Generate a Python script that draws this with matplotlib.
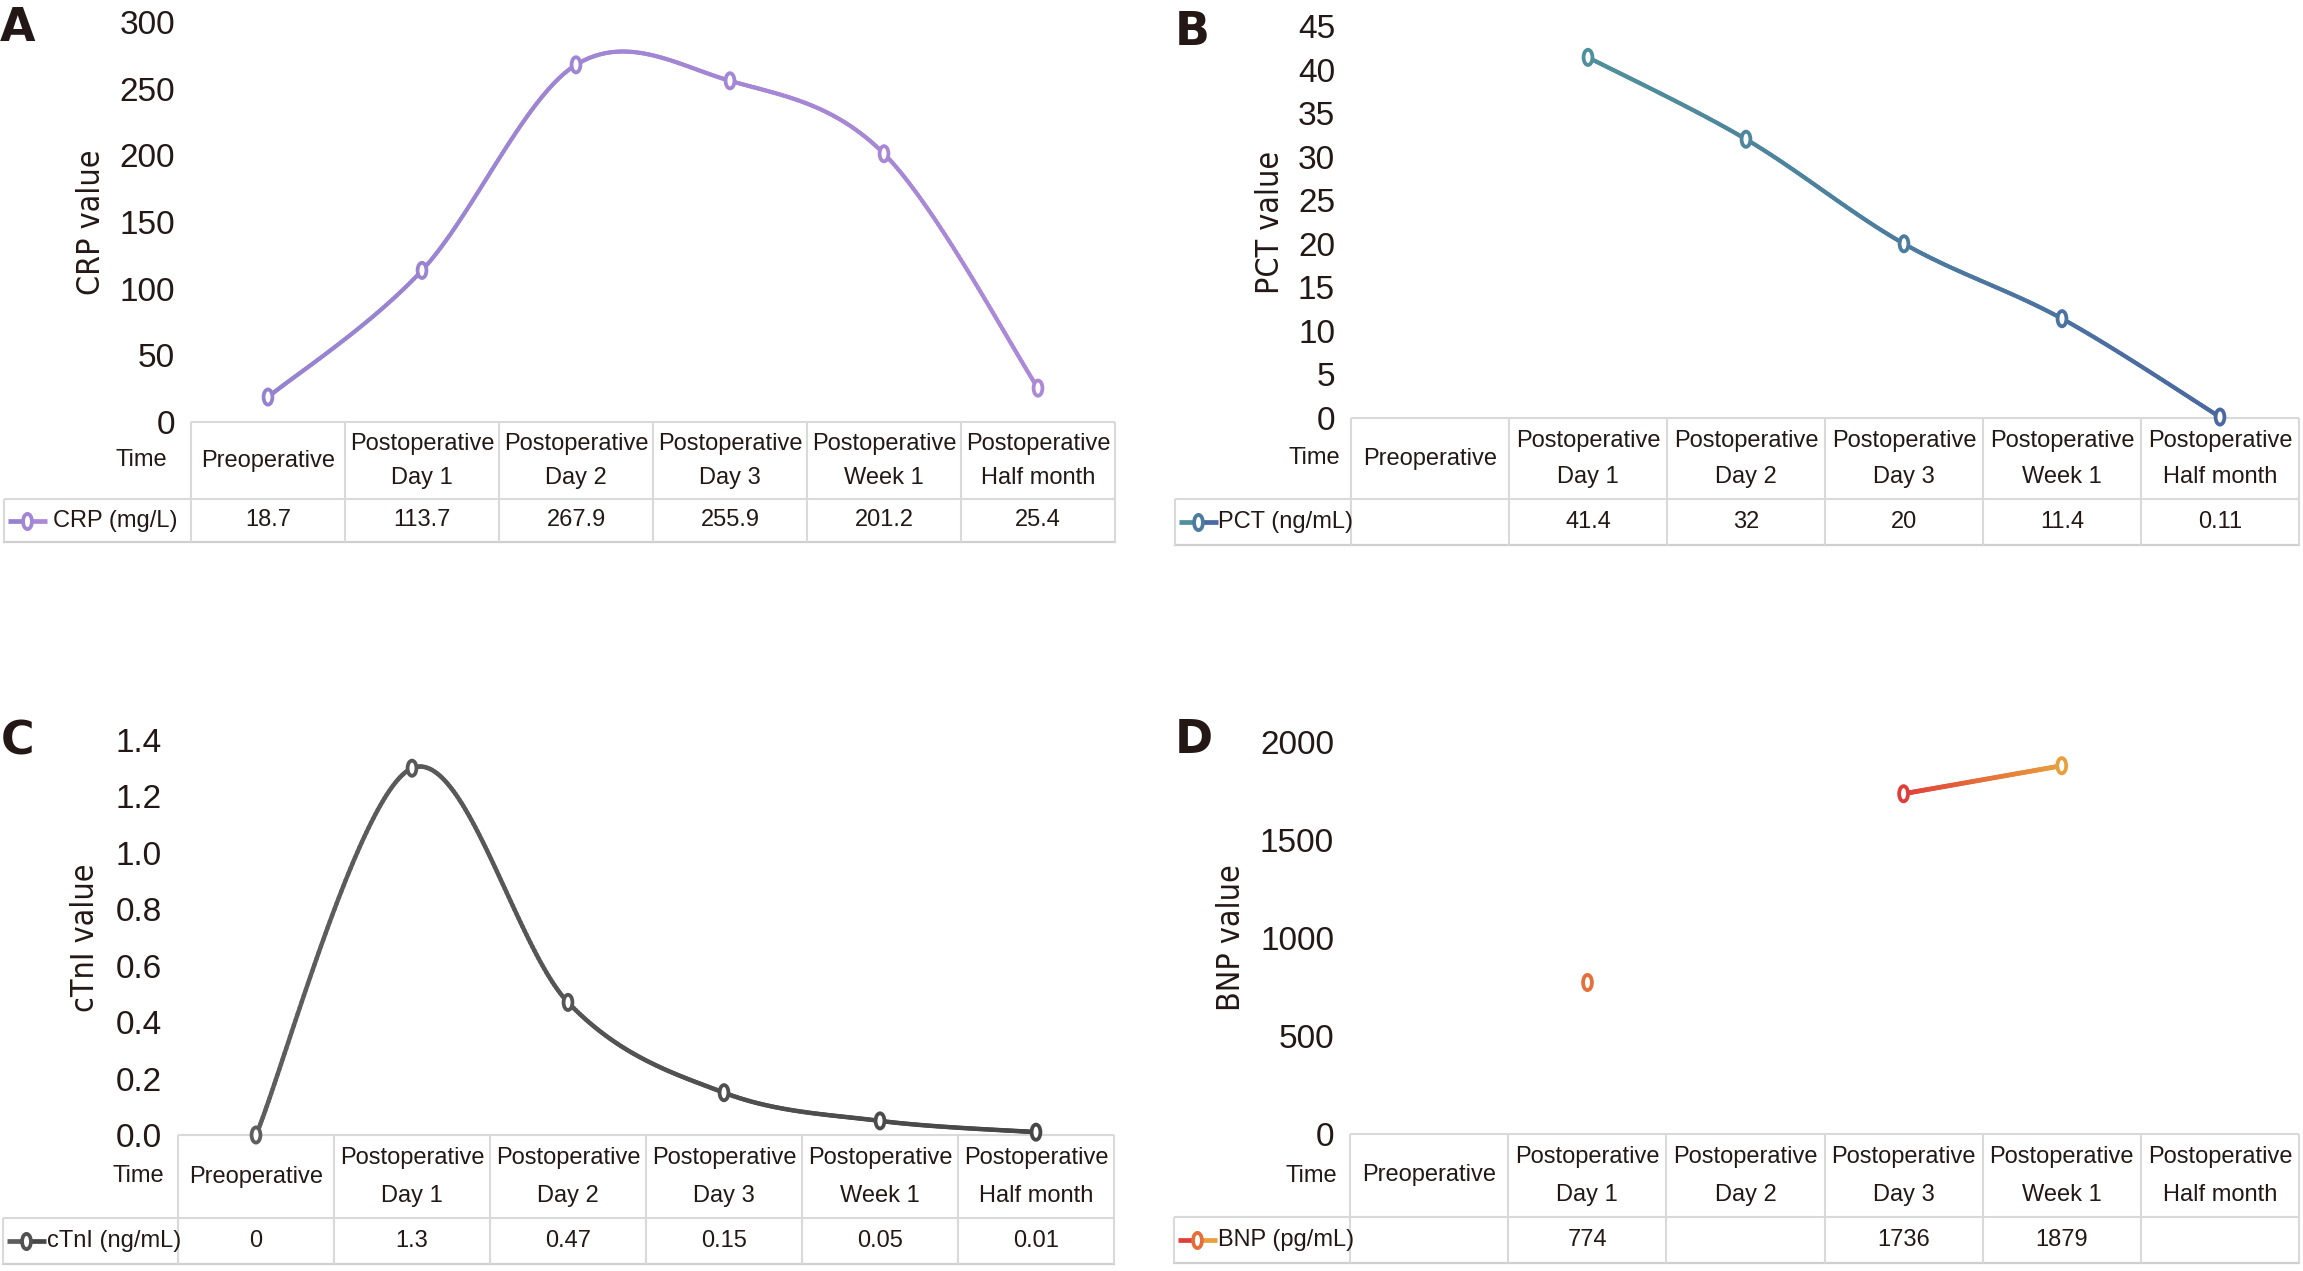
import numpy as np
import matplotlib
matplotlib.use("Agg")
import matplotlib.pyplot as plt
from matplotlib.collections import LineCollection
from matplotlib.colors import LinearSegmentedColormap
from matplotlib.path import Path
from matplotlib.transforms import blended_transform_factory

plt.rcParams['font.family'] = ['Liberation Sans', 'DejaVu Sans']

# time points (header of the data table, one or two lines each)
time_labels = [["Preoperative"],
               ["Postoperative", "Day 1"],
               ["Postoperative", "Day 2"],
               ["Postoperative", "Day 3"],
               ["Postoperative", "Week 1"],
               ["Postoperative", "Half month"]]

# measured values (nan = not measured)
crp = [18.7, 113.7, 267.9, 255.9, 201.2, 25.4]
pct = [np.nan, 41.4, 32, 20, 11.4, 0.11]
ctni = [0, 1.3, 0.47, 0.15, 0.05, 0.01]
bnp = [np.nan, 774, np.nan, 1736, 1879, np.nan]

crp_ticks = [0, 50, 100, 150, 200, 250, 300]
pct_ticks = [0, 5, 10, 15, 20, 25, 30, 35, 40, 45]
ctni_ticks = [0, 0.2, 0.4, 0.6, 0.8, 1.0, 1.2, 1.4]
bnp_ticks = [0, 500, 1000, 1500, 2000]

W, H = 2303, 1271
TXT = '#231815'
GRID = '#d9d9d9'

fig = plt.figure(figsize=(W / 100, H / 100), dpi=100)

circ = Path.unit_circle()
ell = Path(circ.vertices * [0.58, 1.0], circ.codes)


def smooth(xs, ys, n=80):
    # excel style smoothed line (bezier, control points at 1/6 of neighbours)
    pts = np.column_stack([xs, ys])
    out = []
    for i in range(len(pts) - 1):
        p0 = pts[i - 1] if i > 0 else pts[i]
        p1, p2 = pts[i], pts[i + 1]
        p3 = pts[i + 2] if i + 2 < len(pts) else pts[i + 1]
        c1 = p1 + (p2 - p0) / 6
        c2 = p2 - (p3 - p1) / 6
        t = np.linspace(0, 1, n)[:, None]
        seg = (1 - t) ** 3 * p1 + 3 * (1 - t) ** 2 * t * c1 + 3 * (1 - t) * t ** 2 * c2 + t ** 3 * p2
        out.append(seg if i == 0 else seg[1:])
    return np.vstack(out)


def runs(vals):
    res, cur = [], []
    for i, v in enumerate(vals):
        if np.isnan(v):
            if cur:
                res.append(cur)
            cur = []
        else:
            cur.append(i)
    if cur:
        res.append(cur)
    return res


def panel(L, vals, ticks, tick_fmt, ylab, legend, c1, c2, letter, lw=3.0):
    left, right, top, bottom = L['box']
    ax = fig.add_axes([left / W, 1 - bottom / H, (right - left) / W, (bottom - top) / H])
    ax.set_autoscale_on(False)
    ax.set_xlim(-0.5, 5.5)
    ax.set_ylim(ticks[0], ticks[-1])
    for s in ax.spines.values():
        s.set_visible(False)
    ax.set_xticks([])
    ax.set_yticks(ticks)
    ax.set_yticklabels([tick_fmt(t) for t in ticks])
    ax.tick_params(axis='y', length=0, pad=11.5, labelsize=24, labelcolor=TXT)

    hpx = bottom - top
    wpx = right - left

    def ya(py):
        return (bottom - py) / hpx

    def xa(px):
        return (px - left) / wpx

    bt = blended_transform_factory(ax.transData, ax.transAxes)
    cmap = LinearSegmentedColormap.from_list('g', [c1, c2])

    # series
    vals = np.array(vals, dtype=float)
    x = np.arange(len(vals), dtype=float)
    for r in runs(vals):
        xr, yr = x[r], vals[r]
        if len(r) > 1:
            pts = smooth(xr, yr)
            segs = np.stack([pts[:-1], pts[1:]], axis=1)
            mid = (pts[:-1, 0] + pts[1:, 0]) / 2
            cols = cmap((mid - xr[0]) / (xr[-1] - xr[0]))
            lc = LineCollection(segs, colors=cols, linewidths=lw, capstyle='round',
                                joinstyle='round', clip_on=False, zorder=3)
            ax.add_collection(lc)
            mc = cmap((xr - xr[0]) / (xr[-1] - xr[0]))
        else:
            mc = [cmap(0.5)]
        ax.scatter(xr, yr, marker=ell, s=11 ** 2, facecolors='white', edgecolors=mc,
                   linewidths=2.7, zorder=4, clip_on=False)

    # data table
    hb, db = L['hdr'], L['dat']
    ls = L['lstart']
    lkw = dict(color=GRID, lw=1.5, clip_on=False, solid_capstyle='butt')
    ax.plot([-0.5, 5.5], [0, 0], transform=bt, **lkw)
    ax.plot([xa(ls), 1], [ya(hb), ya(hb)], transform=ax.transAxes, **lkw)
    ax.plot([xa(ls), 1], [ya(db), ya(db)], transform=ax.transAxes, color='#cfcfcf', lw=1.6,
            clip_on=False)
    ax.plot([xa(ls), xa(ls)], [ya(hb), ya(db)], transform=ax.transAxes, **lkw)
    for b in np.arange(-0.5, 6.0, 1.0):
        ax.plot([b, b], [0, ya(db)], transform=bt, **lkw)

    hh = hb - bottom
    for i, lab in enumerate(time_labels):
        if len(lab) == 1:
            ax.text(i, ya(bottom + 0.5 * hh), lab[0], transform=bt, ha='center', va='center',
                    fontsize=17, color=TXT)
        else:
            ax.text(i, ya(bottom + 0.28 * hh), lab[0], transform=bt, ha='center', va='center',
                    fontsize=17, color=TXT)
            ax.text(i, ya(bottom + 0.73 * hh), lab[1], transform=bt, ha='center', va='center',
                    fontsize=17, color=TXT)
        v = vals[i]
        if not np.isnan(v):
            ax.text(i, ya((hb + db) / 2), f"{v:g}", transform=bt, ha='center', va='center',
                    fontsize=17, color=TXT)

    ax.text(xa(L['time_x']), ya(bottom + 0.5 * hh), "Time", transform=ax.transAxes,
            ha='right', va='center', fontsize=17, color=TXT)

    # legend key inside the table
    ky = ya((hb + db) / 2)
    kx0, kx1, kxm = xa(ls + 4), xa(ls + 43), xa(ls + 23)
    ax.plot([kx0, kxm], [ky, ky], transform=ax.transAxes, color=c1, lw=3.4, clip_on=False,
            solid_capstyle='butt')
    ax.plot([kxm, kx1], [ky, ky], transform=ax.transAxes, color=c2, lw=3.4, clip_on=False,
            solid_capstyle='butt')
    ax.scatter([kxm], [ky], transform=ax.transAxes, marker=ell, s=11 ** 2,
               facecolors='white', edgecolors=[cmap(0.5)], linewidths=2.7, zorder=5,
               clip_on=False)
    ax.text(xa(L['key_x']), ky, legend, transform=ax.transAxes, ha='left', va='center',
            fontsize=17, color=TXT)

    # axis title and panel letter
    ax.text(xa(L['ylab_x']), 0.5, ylab, transform=ax.transAxes, rotation=90, ha='center',
            va='center', fontsize=23, color=TXT, family='DejaVu Sans', fontstretch='condensed')
    lx, ly = L['letter']
    ax.text(xa(lx), ya(ly), letter, transform=ax.transAxes, ha='left', va='top',
            fontsize=33, fontweight='bold', color=TXT, family='DejaVu Sans')
    return ax


layout_a = dict(box=(191, 1115, 22, 422), hdr=499, dat=542, lstart=4, time_x=167,
                key_x=53, ylab_x=92, letter=(0, 6))
layout_b = dict(box=(1351, 2299, 26, 418), hdr=499, dat=545, lstart=1175, time_x=1340,
                key_x=1218, ylab_x=1270, letter=(1175, 10))
layout_c = dict(box=(178, 1114, 740, 1135), hdr=1218, dat=1264, lstart=3, time_x=164,
                key_x=47, ylab_x=85, letter=(1, 720))
layout_d = dict(box=(1350, 2299, 742, 1134), hdr=1217, dat=1263, lstart=1174, time_x=1337,
                key_x=1218, ylab_x=1231, letter=(1175, 718))

panel(layout_a, crp, crp_ticks, lambda t: f"{t:g}", "CRP value", "CRP (mg/L)",
      '#9683d0', '#ac89d7', 'A')
panel(layout_b, pct, pct_ticks, lambda t: f"{t:g}", "PCT value", "PCT (ng/mL)",
      '#4f909b', '#4a68a2', 'B')
panel(layout_c, ctni, ctni_ticks, lambda t: f"{t:.1f}", "cTnI value", "cTnI (ng/mL)",
      '#5e5e5e', '#474747', 'C', lw=3.2)
panel(layout_d, bnp, bnp_ticks, lambda t: f"{t:g}", "BNP value", "BNP (pg/mL)",
      '#e03e3a', '#e99f3b', 'D', lw=3.4)

fig.savefig("out.png", dpi=100, facecolor='white')
